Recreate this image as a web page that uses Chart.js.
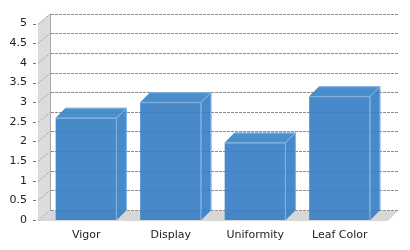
<!DOCTYPE html>
<html>
<head>
<meta charset="utf-8">
<script src="https://cdn.jsdelivr.net/npm/chart.js@4"></script>
<style>
html,body{margin:0;padding:0;background:#fff;}
#wrap{width:410px;height:250px;}
</style>
</head>
<body>
<div id="wrap"><canvas id="c" width="410" height="250"></canvas></div>
<script>
const categories = ['Vigor', 'Display', 'Uniformity', 'Leaf Color'];
const scores = [2.6, 3.0, 1.97, 3.15];
const yMin = 0;
const yMax = 5;
const yStep = 0.5;

const DX = 10, DY = -10;
const WALL_FRONT_X = 38, WALL_BACK_X = 50, BACK_RIGHT_X = 398, FLOOR_FRONT_RIGHT_X = 388;

const scene3d = {
  id: 'scene3d',
  beforeDatasetsDraw(chart) {
    const ctx = chart.ctx, ys = chart.scales.y;
    const y0 = ys.getPixelForValue(yMin);
    const yt = ys.getPixelForValue(yMax);
    ctx.save();
    // floor
    ctx.fillStyle = '#d7d7d7';
    ctx.beginPath();
    ctx.moveTo(WALL_FRONT_X, y0 + 1);
    ctx.lineTo(FLOOR_FRONT_RIGHT_X, y0 + 1);
    ctx.lineTo(BACK_RIGHT_X, y0 + 1 + DY);
    ctx.lineTo(WALL_BACK_X, y0 + 1 + DY);
    ctx.closePath();
    ctx.fill();
    // left wall
    ctx.fillStyle = '#dcdcdc';
    ctx.beginPath();
    ctx.moveTo(WALL_FRONT_X, yt);
    ctx.lineTo(WALL_BACK_X, yt + DY);
    ctx.lineTo(WALL_BACK_X, y0 + 1 + DY);
    ctx.lineTo(WALL_FRONT_X, y0 + 1);
    ctx.closePath();
    ctx.fill();
    // back wall edge
    ctx.strokeStyle = '#a8a8a8';
    ctx.lineWidth = 1;
    ctx.beginPath();
    ctx.moveTo(WALL_BACK_X + 0.5, yt + DY);
    ctx.lineTo(WALL_BACK_X + 0.5, y0 + 1 + DY);
    ctx.stroke();
    // gridlines, diagonals, tick marks
    ys.ticks.forEach(t => {
      const py = Math.round(ys.getPixelForValue(t.value)) + 0.5;
      ctx.strokeStyle = '#8c8c8c';
      ctx.setLineDash([3, 1]);
      ctx.beginPath();
      ctx.moveTo(WALL_BACK_X + 1, py + DY);
      ctx.lineTo(BACK_RIGHT_X, py + DY);
      ctx.stroke();
      ctx.setLineDash([1, 1]);
      ctx.strokeStyle = '#999';
      ctx.beginPath();
      ctx.moveTo(WALL_FRONT_X, py);
      ctx.lineTo(WALL_BACK_X, py + DY);
      ctx.stroke();
      ctx.setLineDash([]);
      ctx.strokeStyle = '#777';
      ctx.beginPath();
      ctx.moveTo(33, py);
      ctx.lineTo(36, py);
      ctx.stroke();
    });
    ctx.restore();
  },
  afterDatasetsDraw(chart) {
    const ctx = chart.ctx;
    const meta = chart.getDatasetMeta(0);
    ctx.save();
    meta.data.forEach(bar => {
      const x0 = bar.x - bar.width / 2, x1 = bar.x + bar.width / 2;
      const top = bar.y, bot = bar.base;
      ctx.fillStyle = 'rgba(60,132,200,0.92)';
      ctx.beginPath();
      ctx.moveTo(x0, top);
      ctx.lineTo(x0 + DX, top + DY);
      ctx.lineTo(x1 + DX, top + DY);
      ctx.lineTo(x1, top);
      ctx.closePath();
      ctx.fill();
      ctx.fillStyle = 'rgba(55,127,196,0.92)';
      ctx.beginPath();
      ctx.moveTo(x1, top);
      ctx.lineTo(x1 + DX, top + DY);
      ctx.lineTo(x1 + DX, bot + DY);
      ctx.lineTo(x1, bot);
      ctx.closePath();
      ctx.fill();
      ctx.strokeStyle = 'rgba(140,185,228,0.9)';
      ctx.lineWidth = 1;
      ctx.beginPath();
      ctx.moveTo(x0 + 0.5, top + 0.5);
      ctx.lineTo(x1 - 0.5, top + 0.5);
      ctx.lineTo(x1 - 0.5, bot);
      ctx.moveTo(x1 - 0.5, top + 0.5);
      ctx.lineTo(x1 + DX - 0.5, top + DY + 0.5);
      ctx.lineTo(x1 + DX - 0.5, bot + DY);
      ctx.moveTo(x1 + DX - 0.5, top + DY + 0.5);
      ctx.lineTo(x0 + DX, top + DY + 0.5);
      ctx.stroke();
    });
    ctx.restore();
  }
};

new Chart(document.getElementById('c'), {
  type: 'bar',
  data: {
    labels: categories,
    datasets: [{
      data: scores,
      backgroundColor: 'rgba(55,127,196,0.92)',
      borderWidth: 0,
      categoryPercentage: 0.724,
      barPercentage: 1.0
    }]
  },
  options: {
    responsive: false,
    devicePixelRatio: 1,
    animation: false,
    layout: { padding: { left: 0, right: 28, top: 20, bottom: 0 } },
    plugins: { legend: { display: false }, tooltip: { enabled: false } },
    scales: {
      x: {
        grid: { display: false, drawTicks: false },
        border: { display: false },
        ticks: { color: '#222', font: { family: 'DejaVu Sans', size: 11 }, padding: 9, maxRotation: 0 },
        afterFit(s) { s.height = 30; }
      },
      y: {
        min: yMin, max: yMax,
        grid: { display: false, drawTicks: false },
        border: { display: false },
        ticks: {
          stepSize: yStep, color: '#222', font: { family: 'DejaVu Sans', size: 11 }, padding: 17,
          callback: v => String(Math.round(v * 10) / 10)
        },
        afterFit(s) { s.width = 44; }
      }
    }
  },
  plugins: [scene3d]
});
</script>
</body>
</html>
